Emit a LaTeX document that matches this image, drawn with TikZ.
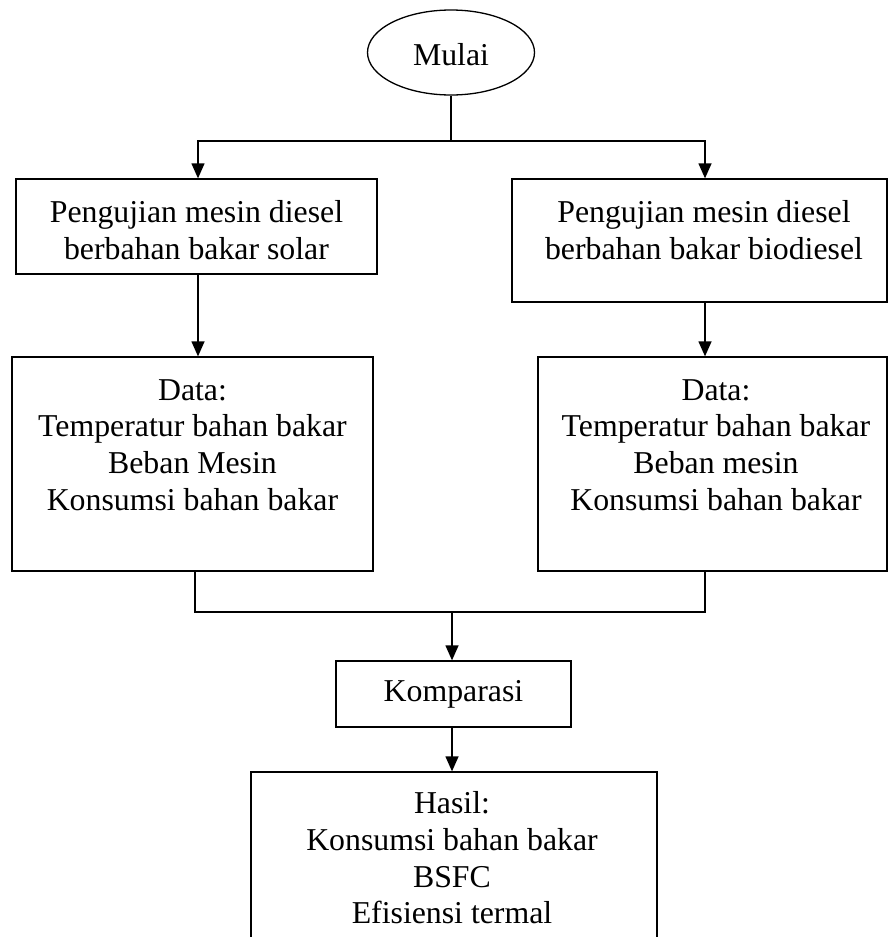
\documentclass[tikz,border=0pt]{standalone}
\usepackage{fontspec}
\setmainfont{Liberation Serif}
\usetikzlibrary{arrows.meta,shapes.geometric}
\begin{document}
\begin{tikzpicture}[x=1pt,y=-1pt,
  box/.style={draw, line width=1.3pt, inner sep=0pt, anchor=center},
  txt/.style={font=\fontsize{31.8}{36.6}\selectfont, align=center, inner sep=0pt},
  arr/.style={line width=1.3pt, -{Triangle[length=15pt,width=13pt]}},
  ln/.style={line width=1.3pt}]
\clip (0,0) rectangle (889,937);
\fill[white] (0,0) rectangle (889,937);
% start
\node[draw, ellipse, line width=1.3pt, minimum width=167pt, minimum height=85pt, inner sep=0pt] (start) at (451,52.5) {};
\node[txt] (startt) at (451,55) {Mulai};
% boxes
\node[box, minimum width=361pt, minimum height=95pt] (tA) at (196.5,226.5) {};
\node[box, minimum width=375pt, minimum height=123pt] (tB) at (699.5,240.5) {};
\node[box, minimum width=361pt, minimum height=214pt] (dA) at (192.5,464) {};
\node[box, minimum width=349pt, minimum height=214pt] (dB) at (712.5,464) {};
\node[box, minimum width=235pt, minimum height=66pt] (komp) at (453.5,694) {};
\node[box, minimum width=406pt, minimum height=200pt] (hasil) at (454,872) {};
% texts
\node[txt] (tAt) at (196.5,230) {Pengujian mesin diesel\\berbahan bakar solar};
\node[txt] (tBt) at (704,230) {Pengujian mesin diesel\\berbahan bakar biodiesel};
\node[txt] (dAt) at (192.5,445) {Data:\\Temperatur bahan bakar\\Beban Mesin\\Konsumsi bahan bakar};
\node[txt] (dBt) at (716,445) {Data:\\Temperatur bahan bakar\\Beban mesin\\Konsumsi bahan bakar};
\node[txt] (kompt) at (453.5,694) {Komparasi};
\node[txt] (hasilt) at (452,858) {Hasil:\\Konsumsi bahan bakar\\BSFC\\Efisiensi termal};
% helper coordinates
\coordinate (split) at (451,141);
\coordinate (xA) at (198,0);
\coordinate (xB) at (705,0);
\coordinate (xmA) at (195,0);
\coordinate (merge) at (452,612);
% connectors
\draw[ln] (start.south) -- (split);
\draw[arr] (split) -| (tA.north -| xA);
\draw[arr] (split) -| (tB.north -| xB);
\draw[arr] (tA.south -| xA) -- (dA.north -| xA);
\draw[arr] (tB.south -| xB) -- (dB.north -| xB);
\draw[ln] (dA.south -| xmA) -- (merge -| xmA) -- (merge -| xB) -- (dB.south -| xB);
\draw[arr] (merge) -- (komp.north -| merge);
\draw[arr] (komp.south -| merge) -- (hasil.north -| merge);
\end{tikzpicture}
\end{document}
